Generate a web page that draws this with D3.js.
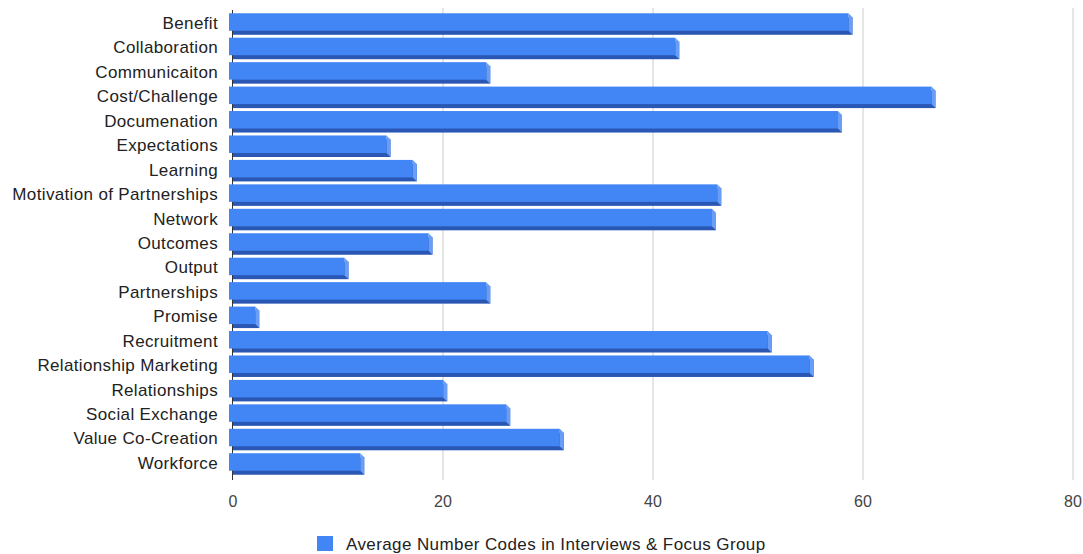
<!DOCTYPE html>
<html>
<head>
<meta charset="utf-8">
<script src="https://cdn.jsdelivr.net/npm/d3@7"></script>
<style>
  body { margin: 0; background: #fff; }
  text { font-family: "Liberation Sans", Arial, sans-serif; }
</style>
</head>
<body>
<div id="chart"></div>
<script>
  // categories and values
  var categories = [
    "Benefit", "Collaboration", "Communicaiton", "Cost/Challenge", "Documenation",
    "Expectations", "Learning", "Motivation of Partnerships", "Network", "Outcomes",
    "Output", "Partnerships", "Promise", "Recruitment", "Relationship Marketing",
    "Relationships", "Social Exchange", "Value Co-Creation", "Workforce"
  ];
  var values = [59, 42.5, 24.5, 66.9, 58, 15, 17.5, 46.5, 46, 19, 11, 24.5, 2.5, 51.3, 55.3, 20.4, 26.4, 31.5, 12.5];
  var xTicks = [0, 20, 40, 60, 80];
  var seriesName = "Average Number Codes in Interviews & Focus Group";

  var W = 1083, H = 554;
  var depth = 4;

  var svg = d3.select("#chart").append("svg")
    .attr("width", W)
    .attr("height", H);

  // scales
  var x = d3.scaleLinear().domain([0, 80]).range([233, 1073]);
  var y = d3.scaleBand()
    .domain(categories)
    .range([11.8, 476.2])
    .paddingInner(0.12)
    .paddingOuter(0.06);

  // gridlines
  svg.append("g")
    .selectAll("line")
    .data(xTicks.slice(1))
    .enter()
    .append("line")
    .attr("x1", d => x(d)).attr("x2", d => x(d))
    .attr("y1", 8).attr("y2", 480)
    .attr("stroke", "#cccccc")
    .attr("stroke-width", 1);

  // baseline
  svg.append("line")
    .attr("x1", x(0) - 0.5).attr("x2", x(0) - 0.5)
    .attr("y1", 10).attr("y2", 480)
    .attr("stroke", "#333")
    .attr("stroke-width", 1);

  // bars (fake 3d: back face, right side, front face)
  var data = categories.map((c, i) => ({ cat: c, val: values[i] }));
  var bars = svg.append("g").selectAll("g")
    .data(data)
    .enter()
    .append("g");

  bars.append("rect")
    .attr("x", x(0))
    .attr("y", d => y(d.cat) + depth)
    .attr("width", d => x(d.val) - x(0))
    .attr("height", y.bandwidth() - depth)
    .attr("fill", "#2a56b4");

  bars.append("path")
    .attr("d", function(d) {
      var xr = x(d.val), t = y(d.cat), b = t + y.bandwidth() - depth;
      return "M" + (xr - depth) + "," + t + "L" + xr + "," + (t + depth) +
        "L" + xr + "," + (b + depth) + "L" + (xr - depth) + "," + b + "Z";
    })
    .attr("fill", "#6a9ef6");

  bars.append("rect")
    .attr("x", x(0) - depth)
    .attr("y", d => y(d.cat))
    .attr("width", d => x(d.val) - x(0))
    .attr("height", y.bandwidth() - depth)
    .attr("fill", "#4285f4");

  // category labels
  svg.append("g")
    .selectAll("text")
    .data(categories)
    .enter()
    .append("text")
    .attr("x", 218)
    .attr("y", d => y(d) + y.bandwidth() / 2 - 1)
    .attr("dy", "0.35em")
    .attr("text-anchor", "end")
    .attr("font-size", 17)
    .attr("letter-spacing", "0.35px")
    .attr("fill", "#222")
    .text(d => d);

  // x axis labels
  svg.append("g")
    .selectAll("text")
    .data(xTicks)
    .enter()
    .append("text")
    .attr("x", d => x(d))
    .attr("y", 507)
    .attr("text-anchor", "middle")
    .attr("font-size", 16)
    .attr("fill", "#444")
    .text(d => d);

  // legend
  svg.append("rect")
    .attr("x", 317).attr("y", 536)
    .attr("width", 16).attr("height", 15)
    .attr("fill", "#4285f4");
  svg.append("text")
    .attr("x", 346).attr("y", 550)
    .attr("font-size", 17)
    .attr("letter-spacing", "0.4px")
    .attr("fill", "#222")
    .text(seriesName);
</script>
</body>
</html>
